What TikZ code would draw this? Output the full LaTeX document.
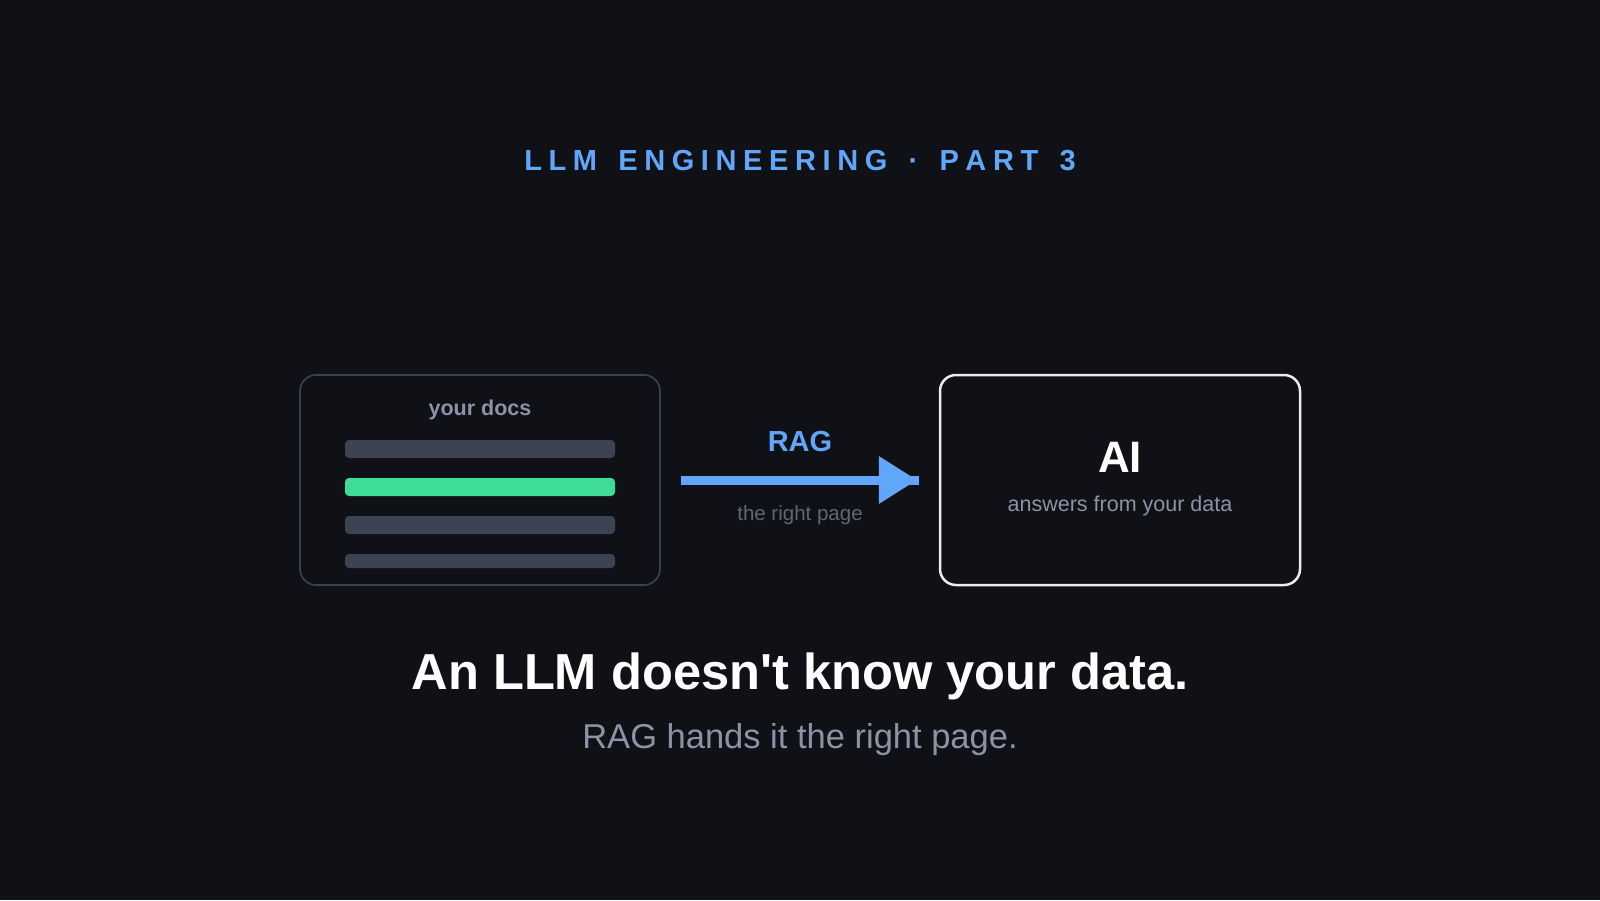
\documentclass[tikz,border=0pt]{standalone}
\usepackage{fontspec}
\setmainfont{Liberation Sans}
\usetikzlibrary{calc}
\definecolor{bg}{HTML}{0F1117}
\definecolor{accent}{HTML}{62A6FA}
\definecolor{hilite}{HTML}{3DDC97}
\definecolor{barc}{HTML}{3D4352}
\definecolor{docline}{HTML}{3D4250}
\definecolor{muted}{HTML}{8B93A6}
\definecolor{dim}{HTML}{5F6676}
\definecolor{boxline}{HTML}{ECECF0}
\newcommand{\fs}[1]{\fontsize{#1}{#1}\selectfont}
\newcommand{\ls}{\kern6.6pt}
\begin{document}
\begin{tikzpicture}[x=1pt,y=-1pt,
  txt/.style={inner sep=0pt, anchor=base},
  panel/.style={rounded corners=16pt, minimum width=360pt, minimum height=210pt, inner sep=0pt, fill=bg},
  docbar/.style={rounded corners=4pt, fill=barc, minimum width=270pt, inner sep=0pt},
  flow/.style={line width=9pt, accent}
]
\fill[bg] (0,0) rectangle (1600,900);
\useasboundingbox (0,0) rectangle (1600,900);

% title
\node[txt, accent, font=\bfseries\fs{29}] (title) at (800,170)
  {L\ls L\ls M\ls\ \ls E\ls N\ls G\ls I\ls N\ls E\ls E\ls R\ls I\ls N\ls G\ls\ \ls ·\ls\ \ls P\ls A\ls R\ls T\ls\ \ls 3};

% left panel
\node[panel, draw=docline, line width=1.6pt] (docs) at (480,480) {};
\node[txt, muted, font=\bfseries\fs{21.5}] (doctitle) at (480,415) {your docs};
\node[docbar, minimum height=18pt] (bar1) at (480,449) {};
\node[docbar, minimum height=18pt, fill=hilite] (bar2) at (480,487) {};
\node[docbar, minimum height=18pt] (bar3) at (480,525) {};
\node[docbar, minimum height=14pt] (bar4) at (480,561) {};

% right panel
\node[panel, draw=boxline, line width=2.5pt] (ai) at (1120,480) {};
\node[txt, white, font=\bfseries\fs{44}] (aititle) at (1120,472) {AI};
\node[txt, muted, font=\fs{21.5}] (aisub) at (1120,511.5) {answers from your data};

% arrow
\coordinate (a0) at ($(docs.east)+(20,0)$);
\coordinate (a1) at ($(ai.west)+(-20,0)$);
\coordinate (h0) at ($(a1)+(-40,0)$);
\draw[flow] (a0) -- (a1);
\fill[accent] ($(h0)+(0,-24)$) -- ($(a1)+(-2,0)$) -- ($(h0)+(0,24)$) -- cycle;
\node[txt, accent, font=\bfseries\fs{29}] (rag) at (800,451.5) {RAG};
\node[txt, dim, font=\fs{20.5}] (rp) at (800,520) {the right page};

% tagline
\node[txt, white, font=\bfseries\fs{50.6}] (main) at (800,689) {An LLM doesn\textquotesingle t know your data.};
\node[txt, muted, font=\fs{34.5}] (sub) at (800,748) {RAG hands it the right page.};
\end{tikzpicture}
\end{document}
